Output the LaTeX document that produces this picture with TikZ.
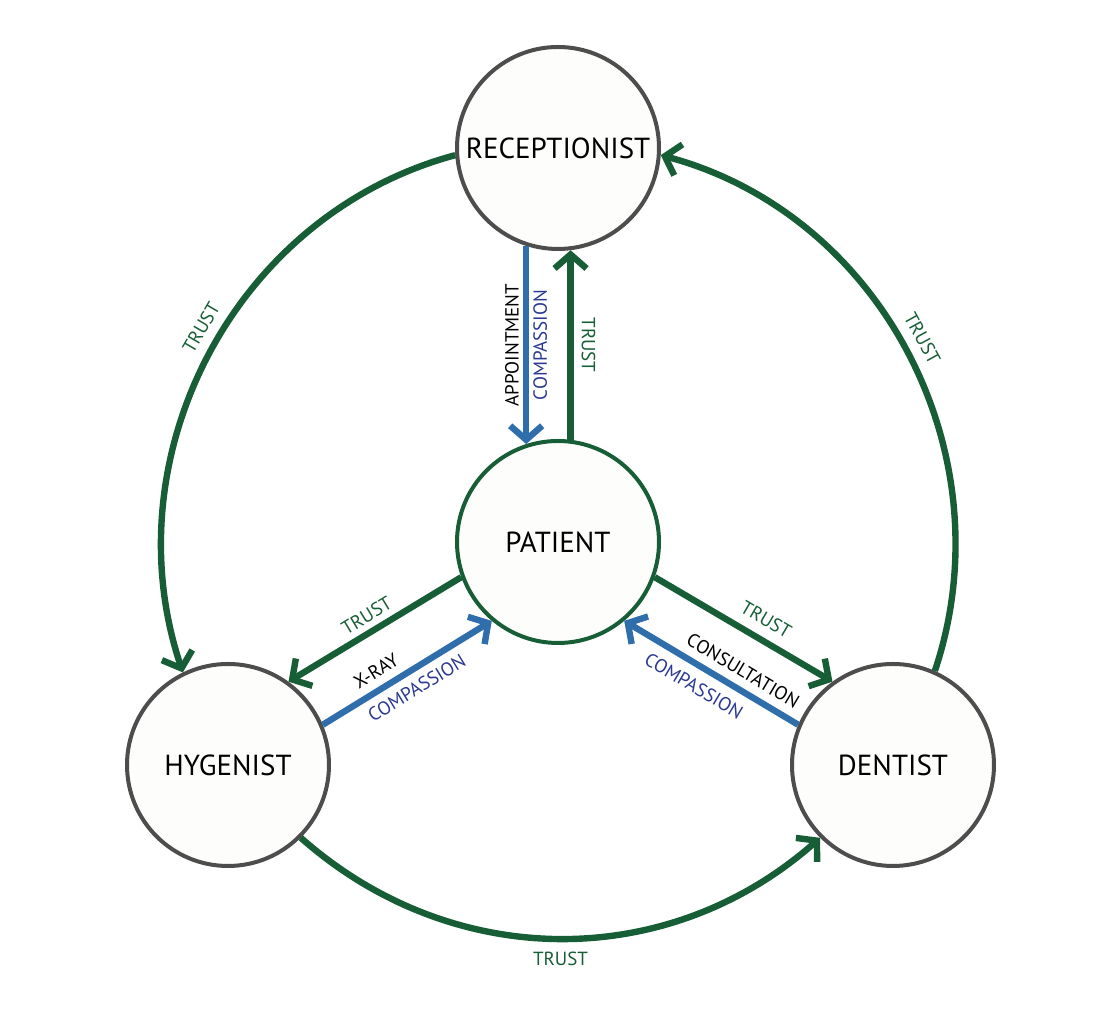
\documentclass[tikz,border=0pt]{standalone}
\usepackage{fontspec}
\setmainfont{PT Sans}
\usetikzlibrary{arrows.meta}
\definecolor{trustgreen}{RGB}{23,94,54}
\definecolor{careblue}{RGB}{47,110,171}
\definecolor{textnavy}{RGB}{43,57,144}
\definecolor{rimgray}{RGB}{77,77,77}
\definecolor{paper}{RGB}{253,253,251}

\begin{document}
\begin{tikzpicture}
  [x=0.5pt,y=0.5pt,
   role/.style={circle,draw=rimgray,fill=paper,line width=2pt,minimum size=101pt,
     inner sep=0pt,font=\fontsize{14.5}{17}\selectfont},
   tie/.style={line width=3.2pt,-{Straight Barb[length=7pt,width=16pt]}},
   trust/.style={tie,draw=trustgreen},
   care/.style={tie,draw=careblue},
   lbl/.style={font=\fontsize{9.5}{11}\selectfont,inner sep=2pt}]

  \useasboundingbox (0,0) rectangle (1094,1016);

  \node[role] (rec) at (558,868) {RECEPTIONIST};
  \node[role,draw=trustgreen] (pat) at (558,474) {PATIENT};
  \node[role] (hyg) at (228,251) {HYGENIST};
  \node[role] (dent) at (893,251) {DENTIST};

  % outer ring
  \foreach \from/\to/\o/\i/\side/\p in {rec.184/hyg.116/195/108.5/above/0.47,
      hyg.-45/dent.225/-41.5/221.5/below/0.5, dent.66/rec.-4/71.5/345/above/0.51}
    \draw[trust] (\from) to[out=\o,in=\i]
      node[lbl,pos=\p,sloped,\side=3pt,text=trustgreen] {TRUST} (\to);

  % receptionist and patient
  \draw[care] (rec.252) --
    node[lbl,midway,rotate=90,anchor=south] {APPOINTMENT}
    node[lbl,midway,rotate=90,anchor=north,text=textnavy] {COMPASSION} (pat.108);
  \draw[trust] (pat.83) --
    node[lbl,midway,rotate=-90,anchor=south,inner sep=4pt,text=trustgreen] {TRUST} (rec.277);

  % hygenist and patient
  \draw[trust] (pat.200) --
    node[lbl,pos=0.5,sloped,above=1pt,text=trustgreen] {TRUST} (hyg.54);
  \draw[care] (hyg.23) --
    node[lbl,pos=0.37,sloped,above=2pt] {X-RAY}
    node[lbl,pos=0.5,sloped,below=2pt,text=textnavy] {COMPASSION} (pat.230);

  % dentist and patient
  \draw[trust] (pat.340) --
    node[lbl,pos=0.57,sloped,above=3pt,text=trustgreen] {TRUST} (dent.126);
  \draw[care] (dent.157) --
    node[lbl,pos=0.37,sloped,above=2pt] {CONSULTATION}
    node[lbl,pos=0.54,sloped,below=3pt,text=textnavy] {COMPASSION} (pat.310);
\end{tikzpicture}
\end{document}
